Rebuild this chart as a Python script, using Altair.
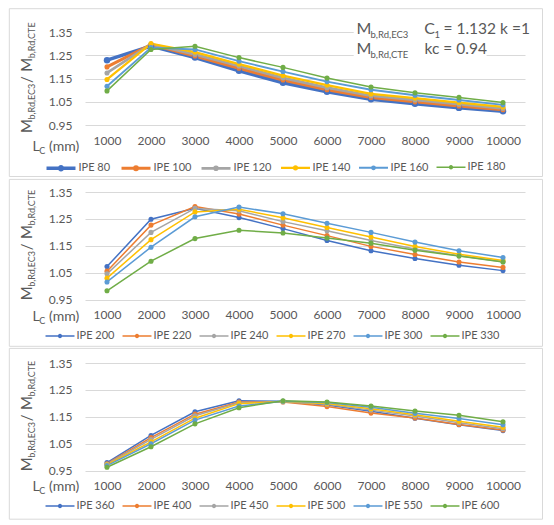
import pandas as pd
import altair as alt

FONT = "Lato"
GREY = "#595959"
GRID = "#d9d9d9"

lengths = [1000, 2000, 3000, 4000, 5000, 6000, 7000, 8000, 9000, 10000]
palette = ["#4472C4", "#ED7D31", "#A5A5A5", "#FFC000", "#5B9BD5", "#70AD47"]
y_ticks = [0.95, 1.05, 1.15, 1.25, 1.35]

# top panel
names_1 = ["IPE 80", "IPE 100", "IPE 120", "IPE 140", "IPE 160", "IPE 180"]
ipe_80 = [1.229, 1.290, 1.240, 1.183, 1.132, 1.093, 1.061, 1.042, 1.024, 1.010]
ipe_100 = [1.200, 1.296, 1.247, 1.194, 1.144, 1.102, 1.069, 1.050, 1.032, 1.016]
ipe_120 = [1.174, 1.298, 1.254, 1.204, 1.153, 1.111, 1.076, 1.058, 1.040, 1.022]
ipe_140 = [1.146, 1.300, 1.264, 1.212, 1.163, 1.122, 1.084, 1.066, 1.047, 1.028]
ipe_160 = [1.117, 1.283, 1.275, 1.225, 1.180, 1.137, 1.102, 1.078, 1.058, 1.037]
ipe_180 = [1.097, 1.275, 1.289, 1.240, 1.198, 1.152, 1.114, 1.089, 1.069, 1.047]

# middle panel
names_2 = ["IPE 200", "IPE 220", "IPE 240", "IPE 270", "IPE 300", "IPE 330"]
ipe_200 = [1.073, 1.249, 1.290, 1.255, 1.214, 1.170, 1.132, 1.103, 1.078, 1.058]
ipe_220 = [1.056, 1.227, 1.296, 1.268, 1.227, 1.188, 1.148, 1.118, 1.090, 1.070]
ipe_240 = [1.046, 1.200, 1.289, 1.280, 1.240, 1.206, 1.170, 1.138, 1.113, 1.091]
ipe_270 = [1.030, 1.173, 1.276, 1.286, 1.254, 1.218, 1.183, 1.148, 1.119, 1.096]
ipe_300 = [1.016, 1.145, 1.258, 1.294, 1.269, 1.234, 1.200, 1.164, 1.132, 1.107]
ipe_330 = [0.983, 1.093, 1.177, 1.208, 1.198, 1.179, 1.160, 1.134, 1.112, 1.090]

# bottom panel
names_3 = ["IPE 360", "IPE 400", "IPE 450", "IPE 500", "IPE 550", "IPE 600"]
ipe_360 = [0.980, 1.081, 1.169, 1.210, 1.208, 1.194, 1.171, 1.145, 1.121, 1.099]
ipe_400 = [0.976, 1.073, 1.160, 1.205, 1.205, 1.188, 1.164, 1.146, 1.122, 1.101]
ipe_450 = [0.974, 1.066, 1.154, 1.202, 1.206, 1.197, 1.175, 1.153, 1.128, 1.106]
ipe_500 = [0.972, 1.057, 1.145, 1.199, 1.207, 1.200, 1.180, 1.158, 1.134, 1.111]
ipe_550 = [0.969, 1.050, 1.138, 1.190, 1.208, 1.203, 1.186, 1.163, 1.144, 1.121]
ipe_600 = [0.963, 1.039, 1.124, 1.184, 1.210, 1.205, 1.190, 1.172, 1.156, 1.132]

PW = 440
LEFT = 75.7
RIGHT = 17.5

# legend symbol: a line with a dot made of concentric stroked rings
SYMBOL = "M-2,0H2" + "".join(
    "M-%s,0A%s,%s,0,1,1,%s,0A%s,%s,0,1,1,-%s,0" % (r, r, r, r, r, r, r)
    for r in (0.05, 0.12, 0.2))


def long_table(names, series):
    rows = []
    for name, vals in zip(names, series):
        for L, v in zip(lengths, vals):
            rows.append({"serie": name, "L": L, "ratio": v})
    return pd.DataFrame(rows)


def piece(txt, x, y, size, angle=0):
    return alt.Chart(pd.DataFrame({"t": [txt]})).mark_text(
        font=FONT, fontSize=size, color=GREY, align="left",
        baseline="alphabetic", angle=angle
    ).encode(x=alt.value(x), y=alt.value(y), text="t:N")


def box(x, x2, y, y2, **kw):
    return alt.Chart(pd.DataFrame({"a": [0]})).mark_rect(**kw).encode(
        x=alt.value(x), x2=alt.value(x2), y=alt.value(y), y2=alt.value(y2))


def panel(df, names, top, height, bottom, legend_y, lc_y, thick=False, extra=()):
    legend = alt.Legend(
        title=None, orient="none", legendX=-33, legendY=legend_y,
        direction="horizontal", symbolType=SYMBOL, symbolSize=210,
        labelFont=FONT, labelFontSize=11, labelColor=GREY,
        labelOffset=8.5, columnPadding=4, gridAlign="none", padding=0)
    cscale = alt.Scale(domain=names, range=palette)
    widths = [3.5 if thick and i == 0 else 1.5 for i in range(len(names))]
    x = alt.X("L:O", scale=alt.Scale(type="point", padding=0.5), axis=alt.Axis(
        title=None, labelAngle=0, domain=False, ticks=False, tickSize=0,
        grid=False, labelPadding=10, labelFont=FONT, labelFontSize=12,
        labelColor=GREY))
    y = alt.Y("ratio:Q", scale=alt.Scale(domain=[0.95, 1.35], nice=False, zero=False),
              axis=alt.Axis(title=None, values=y_ticks, format=".2f", domain=False,
                            ticks=False, tickSize=0, labelPadding=13, gridColor=GRID,
                            labelFont=FONT, labelFontSize=12, labelColor=GREY))
    if thick:
        sz = alt.condition(alt.datum.serie == "IPE 80", alt.value(42), alt.value(26))
    else:
        sz = alt.value(26)
    base = alt.Chart(df)
    lines = base.mark_line().encode(
        x=x, y=y,
        color=alt.Color("serie:N", scale=cscale, legend=legend),
        strokeWidth=alt.StrokeWidth("serie:N", scale=alt.Scale(domain=names, range=widths),
                                    legend=legend))
    dots = base.mark_circle(opacity=1).encode(
        x=x, y=y, color=alt.Color("serie:N", scale=cscale, legend=None), size=sz)

    border = box(-LEFT, PW + RIGHT, -top, height + bottom,
                 fillOpacity=0, stroke=GRID, strokeWidth=1)

    # y title: M_b,Rd,EC3 / M_b,Rd,CTE
    start = height / 2 + 54.5
    ytitle = [
        piece("M", -53.4, start, 15, 270),
        piece("b,Rd,EC3", -50.4, start - 13.5, 9, 270),
        piece(" / ", -53.4, start - 50, 15, 270),
        piece("M", -53.4, start - 61.3, 15, 270),
        piece("b,Rd,CTE", -50.4, start - 74.8, 9, 270),
    ]
    # x title: L_C (mm)
    xtitle = [
        piece("L", -52.4, height + lc_y, 14),
        piece("C", -45.7, height + lc_y + 3, 9),
        piece("(mm)", -35.9, height + lc_y, 14),
    ]
    layers = [border] + list(extra) + [lines, dots] + ytitle + xtitle
    return alt.layer(*layers).properties(width=PW, height=height)


# annotation of the top panel
note = [
    box(268.7, 443.3, -12.6, 7.8, fill="white"),
    box(268.7, 401.6, 9.7, 29.1, fill="white"),
    piece("M", 271.6, 1.9, 16),
    piece("b,Rd,EC3", 285.5, 5.8, 9.5),
    piece("C", 339.2, 1.9, 16),
    piece("1", 349.5, 5.8, 9.5),
    piece("= 1.132 k =1", 358.5, 1.9, 15.5),
    piece("M", 271.6, 22.3, 16),
    piece("b,Rd,CTE", 285.5, 26.2, 9.5),
    piece("kc = 0.94", 339.5, 22.3, 15.5),
]

p1 = panel(long_table(names_1, [ipe_80, ipe_100, ipe_120, ipe_140, ipe_160, ipe_180]),
           names_1, 23.3, 93.1, 51.4, 127.3, 25.9, thick=True, extra=note)
p2 = panel(long_table(names_2, [ipe_200, ipe_220, ipe_240, ipe_270, ipe_300, ipe_330]),
           names_2, 12.6, 107.7, 46.6, 136, 21.3)
p3 = panel(long_table(names_3, [ipe_360, ipe_400, ipe_450, ipe_500, ipe_550, ipe_600]),
           names_3, 14.6, 107.7, 48.5, 135, 20.7)

chart = alt.vconcat(p1, p2, p3, spacing=0).resolve_scale(
    color="independent", strokeWidth="independent").properties(
    padding=0).configure_view(strokeWidth=0)

chart.save("out.html", embed_options={"renderer": "svg", "actions": False})
